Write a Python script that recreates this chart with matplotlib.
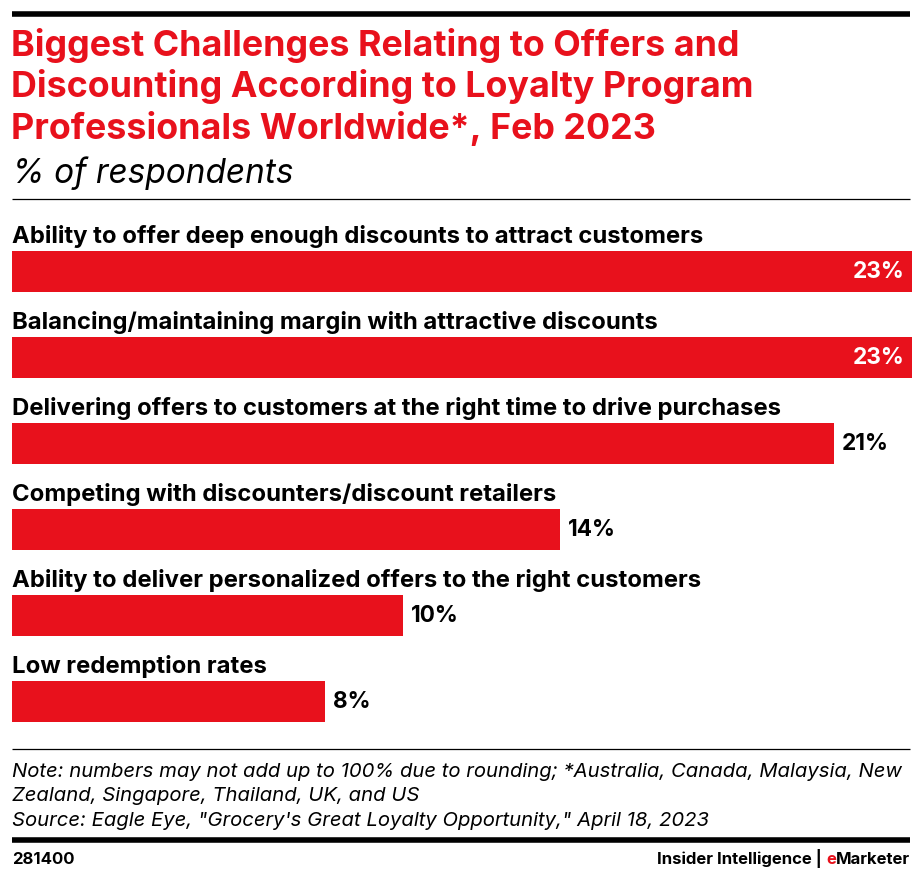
import matplotlib
matplotlib.use("Agg")
import matplotlib.pyplot as plt
from matplotlib.lines import Line2D

# data
labels = [
    "Ability to offer deep enough discounts to attract customers",
    "Balancing/maintaining margin with attractive discounts",
    "Delivering offers to customers at the right time to drive purchases",
    "Competing with discounters/discount retailers",
    "Ability to deliver personalized offers to the right customers",
    "Low redemption rates",
]
values = [23, 23, 21, 14, 10, 8]

title_lines = ["Biggest Challenges Relating to Offers and",
               "Discounting According to Loyalty Program",
               "Professionals Worldwide*, Feb 2023"]
note_lines = ["Note: numbers may not add up to 100% due to rounding; *Australia, Canada, Malaysia, New",
              "Zealand, Singapore, Thailand, UK, and US",
              "Source: Eagle Eye, \"Grocery's Great Loyalty Opportunity,\" April 18, 2023"]

RED = "#E8111C"
W, H = 922, 878
plt.rcParams['font.family'] = ['Inter', 'DejaVu Sans']

fig = plt.figure(figsize=(W / 100, H / 100), dpi=100)

def fy(py):
    return 1 - py / H

def fx(px):
    return px / W

def hline(py, lw, x0=12, x1=910):
    fig.add_artist(Line2D([fx(x0), fx(x1)], [fy(py), fy(py)], color="black", lw=lw,
                          transform=fig.transFigure, solid_capstyle="butt"))

# rules
hline(14.5, 4.0)
hline(200, 0.9)
hline(750, 0.9)
hline(840.5, 4.0)

# title
for i, line in enumerate(title_lines):
    fig.text(fx(11), fy(56 + 41.5 * i), line, color=RED, fontsize=25.8, fontweight="bold",
             va="baseline", ha="left")
fig.text(fx(12), fy(183), "% of respondents", fontsize=24, style="italic",
         va="baseline", ha="left")

# bars
y0, step = 272.5, 86
top_px, bot_px = 203.7, 754.1
ax = fig.add_axes([fx(12), fy(bot_px), fx(912) - fx(12), (bot_px - top_px) / H])
ax.set_xlim(0, 23)
ax.set_ylim((bot_px - y0) / step, (top_px - y0) / step)
ax.axis("off")

ypos = list(range(len(values)))
ax.barh(ypos, values, height=41 / step, color=RED, edgecolor="none")
for y, lab, v in zip(ypos, labels, values):
    ax.text(0, y + (243.5 - y0) / step, lab, fontsize=17.2, fontweight="bold",
            va="baseline", ha="left")
    if v >= 22:
        ax.text(v - 0.18, y, f"{v}%", fontsize=16.3, color="white", fontweight="bold",
                va="center", ha="right")
    else:
        ax.text(v + 0.2, y, f"{v}%", fontsize=16.3, color="black", fontweight="bold",
                va="center", ha="left")

# footer
for i, line in enumerate(note_lines):
    fig.text(fx(12), fy(777 + 24.5 * i), line, fontsize=14.6, style="italic",
             va="baseline", ha="left")
fig.text(fx(12), fy(864), "281400", fontsize=12, fontweight="bold", va="baseline", ha="left")

# brand line: "Insider Intelligence | " + red "e" + "Marketer", right aligned
fig.canvas.draw()
r = fig.canvas.get_renderer()
x_right = 910
parts = [("Marketer", "black"), ("e", RED), ("Insider Intelligence | ", "black")]
for txt, col in parts:
    t = fig.text(fx(x_right), fy(864), txt, fontsize=12, fontweight="bold",
                 va="baseline", ha="right", color=col)
    bb = t.get_window_extent(r)
    x_right = bb.x0

fig.savefig("out.png", dpi=100)
